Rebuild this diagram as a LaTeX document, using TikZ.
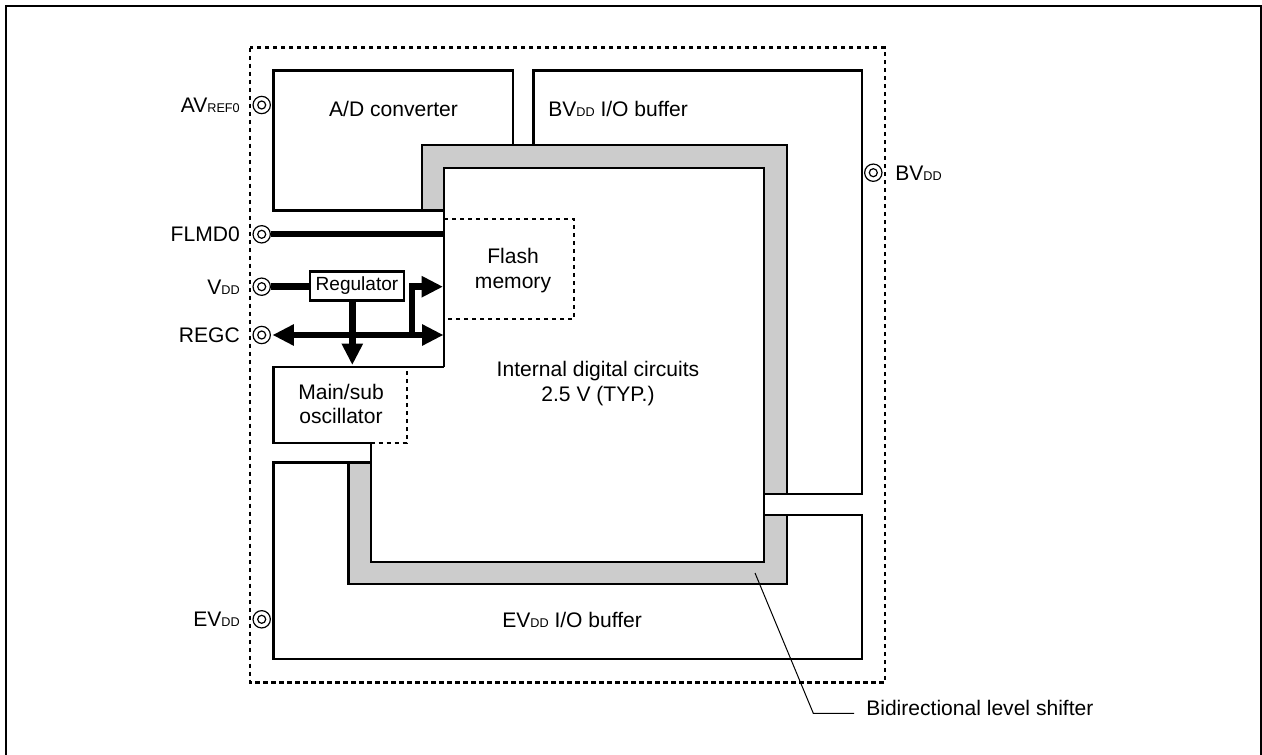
\documentclass[tikz,border=0pt]{standalone}
\usepackage{fontspec}
\setmainfont{Liberation Sans}
\usetikzlibrary{arrows.meta,calc}
\newcommand\sbs[1]{{\fontsize{9.5}{9.5}\selectfont #1}}
\begin{document}
\begin{tikzpicture}[x=0.75pt,y=-0.75pt,
  box/.style={draw=black, line width=1.8pt, fill=white, line join=miter},
  outl/.style={draw=black, line width=1.8pt, line join=miter},
  dbox/.style={draw=black, line width=1.8pt, dash pattern=on 3.3pt off 2.7pt},
  band/.style={draw=black, line width=1.8pt, fill=black!20, line join=miter},
  bus/.style={line width=4.8pt, line join=miter},
  bigtip/.tip={Triangle[length=16pt,width=15pt]},
  pad/.style={circle, draw, line width=0.9pt, minimum size=13pt, inner sep=0pt, fill=white,
    path picture={\draw[line width=0.9pt] (path picture bounding box.center) circle (3pt);}},
  lbl/.style={font=\fontsize{15.8}{18}\selectfont, inner sep=0pt},
  reglbl/.style={draw, line width=1.8pt, fill=white, minimum width=70.5pt, minimum height=22pt,
    inner sep=0pt, font=\fontsize{14.3}{16}\selectfont},
  leader/.style={line width=0.75pt}
]
\useasboundingbox (0,0) rectangle (1262,755);
\clip (0,0) rectangle (1262,755);

% outer frame
\draw[line width=1.8pt] (6.2,770) -- (6.2,6.2) -- (1261.3,6.2) -- (1261.3,770);

% chip boundary
\draw[dbox] (250,47.7) rectangle (885,682.3);

% A/D converter, BVDD and EVDD buffers
\draw[box] (273.3,70.7) rectangle (513,210.7);
\draw[box] (533.3,70.7) rectangle (861.7,494);
\draw[box] (273.3,462.3) -- (700,462.3) -- (700,515) -- (861.7,515) -- (861.7,659) -- (273.3,659) -- cycle;

% internal digital circuits area
\fill[white] (444,168) -- (764,168) -- (764,561.7) -- (370.7,561.7) -- (370.7,442.7) -- (407,442.7) -- (407,367) -- (444,367) -- cycle;

% bidirectional level shifter (gray band)
\draw[band] (421.7,210.7) -- (421.7,145) -- (786.7,145) -- (786.7,494) -- (764,494) -- (764,168) -- (444,168) -- (444,210.7) -- cycle;
\draw[band] (348.3,462.3) -- (370.7,462.3) -- (370.7,561.7) -- (764,561.7) -- (764,515) -- (786.7,515) -- (786.7,584) -- (348.3,584) -- cycle;

% internal outline
\draw[outl] (444,367) -- (444,168) -- (764,168) -- (764,561.7) -- (370.7,561.7) -- (370.7,442.7);

% main/sub oscillator
\fill[white] (273.3,367) rectangle (407,442.7);
\draw[outl] (370.7,442.7) -- (273.3,442.7) -- (273.3,367) -- (444,367);
\draw[dbox] (370.7,442.7) -- (407,442.7) -- (407,367);

% flash memory
\draw[dbox] (444,219) -- (574,219) -- (574,319) -- (444,319);

% pads
\node[pad] (pAV) at (261.7,105) {};
\node[pad] (pFL) at (261.7,234.3) {};
\node[pad] (pVDD) at (261.7,286.7) {};
\node[pad] (pREGC) at (261.7,335) {};
\node[pad] (pEV) at (261.7,619.3) {};
\node[pad] (pBV) at (873.3,172.7) {};

% regulator
\node[reglbl] (reg) at (357,286) {Regulator};

% connector end points
\coordinate (flE) at (444,234.3);
\coordinate (regS) at (352.3,300);
\coordinate (oscT) at (352.3,365);
\coordinate (regcE) at (443.5,335);
\coordinate (brA) at (412,335);
\coordinate (flW) at (443,286.7);

% connectors
\draw[bus] (pFL.east) -- (flE);
\draw[bus] (pVDD.east) -- (pVDD.east -| reg.west);
\draw[bus, -{bigtip}] (regS) -- (oscT);
\draw[bus, {bigtip}-{bigtip}] ($(pREGC.east)+(1.5,0)$) -- (regcE);
\draw[bus, -{bigtip}] (brA) |- (flW);

% texts
\node[lbl, anchor=base] at (393.5,116.7) {A/D converter};
\node[lbl, anchor=base west] at (548,116.7) {BV\sbs{DD} I/O buffer};
\node[lbl, anchor=base] at (513,264) {Flash};
\node[lbl, anchor=base] at (513,289) {memory};
\node[lbl, anchor=base] at (341,399.3) {Main/sub};
\node[lbl, anchor=base] at (341,423.3) {oscillator};
\node[lbl, anchor=base] at (598,376.7) {Internal digital circuits};
\node[lbl, anchor=base] at (598,401.5) {2.5 V (TYP.)};
\node[lbl, anchor=base west] at (502,627.7) {EV\sbs{DD} I/O buffer};

\node[lbl, anchor=base east] at (240,112.5) {AV\sbs{REF0}};
\node[lbl, anchor=base east] at (240,241.8) {FLMD0};
\node[lbl, anchor=base east] at (240,294.2) {V\sbs{DD}};
\node[lbl, anchor=base east] at (240,342.5) {REGC};
\node[lbl, anchor=base east] at (240,626.8) {EV\sbs{DD}};
\node[lbl, anchor=base west] at (895,180.2) {BV\sbs{DD}};

% leader to level shifter
\node[lbl, anchor=base west] (lsT) at (866,715.3) {Bidirectional level shifter};
\coordinate (lsA) at (755,573);
\coordinate (lsB) at (813.3,713.3);
\coordinate (lsC) at (854,713.3);
\draw[leader] (lsA) -- (lsB) -- (lsC);
\end{tikzpicture}
\end{document}
